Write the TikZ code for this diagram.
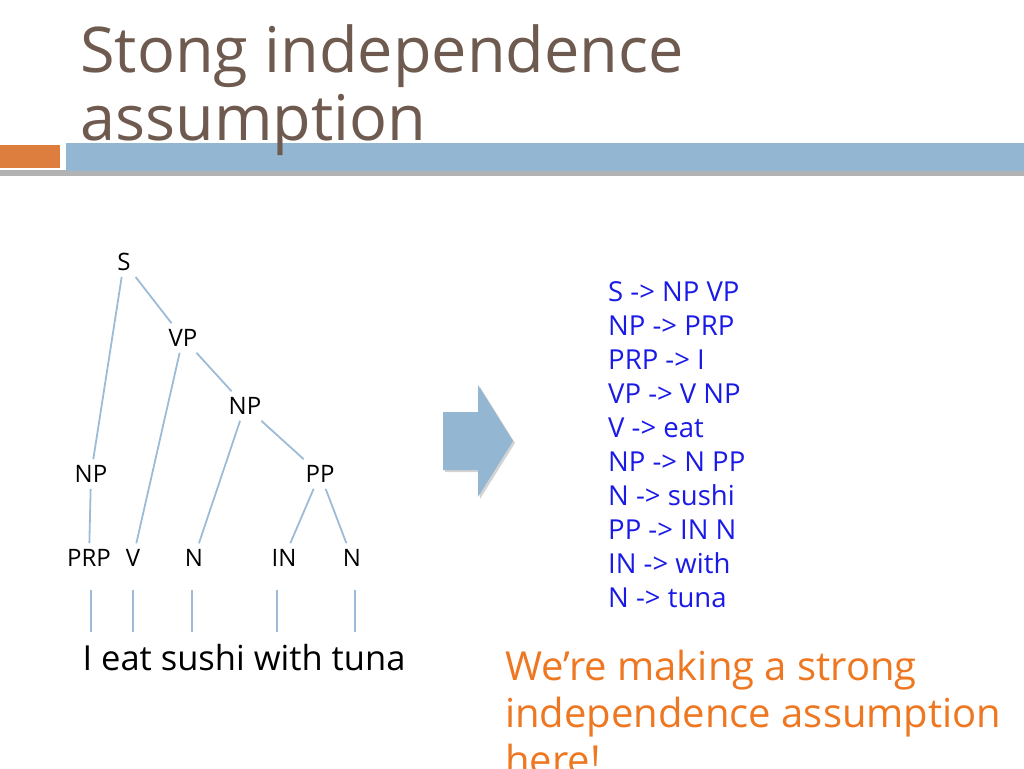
\documentclass[tikz,border=0pt]{standalone}
\usepackage{fontspec}
\setmainfont{Open Sans}
\usetikzlibrary{positioning, shadows}
\definecolor{titleBrown}{HTML}{6E5A4E}
\definecolor{barBlue}{HTML}{93B6D2}
\definecolor{barOrange}{HTML}{DE7E3E}
\definecolor{edgeBlue}{HTML}{9DBBD6}
\definecolor{ruleBlue}{HTML}{1A1AE6}
\definecolor{noteOrange}{HTML}{EE7722}
\tikzset{
    % Tree
    treeLabel/.style={font=\fontsize{24}{24}\selectfont, inner sep=6pt},
    treeEdge/.style={draw=edgeBlue, line width=1.8pt},
    % Text
    ruleLine/.style={anchor=base west, font=\fontsize{27.5}{27.5}\selectfont, color=ruleBlue, inner sep=0pt},
    noteLine/.style={anchor=base west, font=\fontsize{40}{40}\selectfont, color=noteOrange, inner sep=0pt}
}
\begin{document}
\begin{tikzpicture}[x=1pt, y=-1pt]
    \useasboundingbox (0,0) rectangle (1024,768);
    \clip (0,0) rectangle (1024,768);
    % Title and bars
    \fill[gray!60] (0,170) rectangle (1024,176);
    \fill[barOrange] (0,145) rectangle (60,168);
    \fill[barBlue] (66,143) rectangle (1024,171);
    \node[anchor=base west, inner sep=0pt, color=titleBrown, font=\fontsize{63}{63}\selectfont] (title1) at (80,72) {Stong independence};
    \node[anchor=base west, inner sep=0pt, color=titleBrown, font=\fontsize{63}{63}\selectfont] (title2) at (80,140) {assumption};

    % Parse tree
    \node[treeLabel] (S) at (124,262) {S};
    \node[treeLabel] (VP) at (183,338) {VP};
    \node[treeLabel] (NPb) at (245,406) {NP};
    \node[treeLabel] (NPa) at (91,474) {NP};
    \node[treeLabel] (PP) at (320,474) {PP};
    \node[treeLabel] (PRP) at (89,558) {PRP};
    \node[treeLabel] (V) at (133,558) {V};
    \node[treeLabel] (Na) at (194,558) {N};
    \node[treeLabel] (IN) at (284,558) {IN};
    \node[treeLabel] (Nb) at (352,558) {N};
    \draw[treeEdge] (S) -- (NPa);
    \draw[treeEdge] (S) -- (VP);
    \draw[treeEdge] (VP) -- (V);
    \draw[treeEdge] (VP) -- (NPb);
    \draw[treeEdge] (NPb) -- (Na);
    \draw[treeEdge] (NPb) -- (PP);
    \draw[treeEdge] (PP) -- (IN);
    \draw[treeEdge] (PP) -- (Nb);
    \draw[treeEdge] (NPa) -- (PRP);
    \node[font=\fontsize{34.5}{34.5}\selectfont, inner sep=0pt] (sent) at (244,658) {I eat sushi with tuna};
    \foreach \x in {91,133,192,277,355} {
        \draw[treeEdge] (\x,590) -- (\x,632);
    }

    % Block arrow
    \fill[barBlue, drop shadow={opacity=0.35, shadow xshift=2pt, shadow yshift=-2pt}]
        (443,412) -- (478,412) -- (478,385) -- (513,441) -- (478,497) -- (478,470) -- (443,470) -- cycle;

    % Rules
    \foreach \r [count=\i from 0] in {S -> NP VP, NP -> PRP, PRP -> I, VP -> V NP, V -> eat, NP -> N PP, N -> sushi, PP -> IN N, IN -> with, N -> tuna} {
        \node[ruleLine] (rule\i) at (608,{301+34*\i}) {\r};
    }

    % Note
    \node[noteLine] (note1) at (505,680) {We’re making a strong};
    \node[noteLine] (note2) at (505,727) {independence assumption};
    \node[noteLine] (note3) at (505,774) {here!};
\end{tikzpicture}
\end{document}
